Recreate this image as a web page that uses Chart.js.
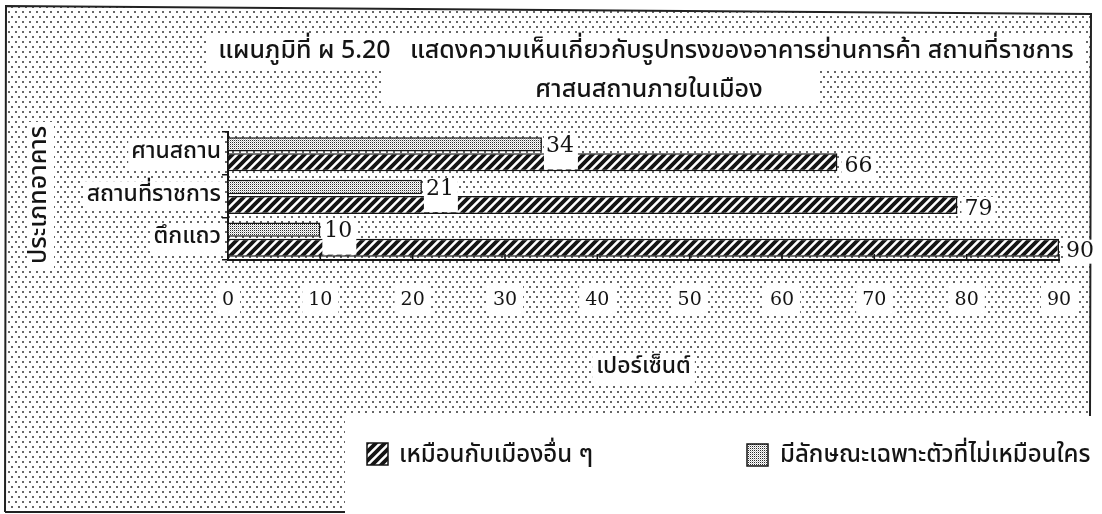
<!DOCTYPE html>
<html>
<head>
<meta charset="utf-8">
<script src="https://cdn.jsdelivr.net/npm/chart.js@4"></script>
<style>
  html, body { margin: 0; padding: 0; background: #fff; }
  #wrap { width: 1102px; height: 514px; position: relative; }
</style>
</head>
<body>
<div id="wrap"><canvas id="c" width="1102" height="514"></canvas></div>
<script>
// ---------- data ----------
const categories = ['ศานสถาน', 'สถานที่ราชการ', 'ตึกแถว'];
const uniqueValues = [34, 21, 10];      // มีลักษณะเฉพาะตัวที่ไม่เหมือนใคร (dotted)
const similarValues = [66, 79, 90];     // เหมือนกับเมืองอื่น ๆ (hatched)
const xTickValues = [0, 10, 20, 30, 40, 50, 60, 70, 80, 90];
const seriesSimilar = 'เหมือนกับเมืองอื่น ๆ';
const seriesUnique = 'มีลักษณะเฉพาะตัวที่ไม่เหมือนใคร';
const titleLines = ['แผนภูมิที่ ผ 5.20   แสดงความเห็นเกี่ยวกับรูปทรงของอาคารย่านการค้า สถานที่ราชการ', 'ศาสนสถานภายในเมือง'];
const yAxisTitle = 'ประเภทอาคาร';
const xAxisTitle = 'เปอร์เซ็นต์';

// ---------- styles ----------
const THAI = '"Noto Sans Thai", "Noto Sans Thai UI", "Loma", "Garuda", "Noto Sans", sans-serif';
const NUM = '"DejaVu Serif", "Liberation Serif", serif';
const INK = '#141414';

const canvas = document.getElementById('c');
const mainCtx = canvas.getContext('2d');

function makePattern(w, h, draw) {
  const c = document.createElement('canvas');
  c.width = w; c.height = h;
  const g = c.getContext('2d');
  draw(g, w, h);
  return mainCtx.createPattern(c, 'repeat');
}
const bgDots = makePattern(7, 10, (g, w, h) => {
  g.fillStyle = '#fff'; g.fillRect(0, 0, w, h);
  g.fillStyle = '#666';
  g.fillRect(1, 1, 2, 2);
  g.fillRect(4, 6, 2, 2);
});
const hatch = makePattern(9, 9, (g, w, h) => {
  g.fillStyle = '#fff'; g.fillRect(0, 0, w, h);
  g.strokeStyle = INK; g.lineWidth = 3.8;
  g.beginPath();
  g.moveTo(-3, 3); g.lineTo(3, -3);
  g.moveTo(0, h); g.lineTo(w, 0);
  g.moveTo(w - 3, h + 3); g.lineTo(w + 3, h - 3);
  g.stroke();
});
const stipple = makePattern(2, 2, (g) => {
  g.fillStyle = '#fff'; g.fillRect(0, 0, 2, 2);
  g.fillStyle = '#2a2a2a'; g.fillRect(0, 0, 1, 1);
  g.fillStyle = '#c4c4c4'; g.fillRect(1, 1, 1, 1);
});

// ---------- plugins ----------
const scanPlugin = {
  id: 'scan',
  beforeDraw(chart) {
    const ctx = chart.ctx;
    ctx.save();
    ctx.fillStyle = '#fff';
    ctx.fillRect(0, 0, chart.width, chart.height);
    // dotted background inside frame
    ctx.fillStyle = bgDots;
    ctx.beginPath();
    ctx.moveTo(6, 6); ctx.lineTo(1091, 14); ctx.lineTo(1090, 512); ctx.lineTo(5, 512); ctx.closePath();
    ctx.fill();
    // white patches
    ctx.fillStyle = '#fff';
    ctx.fillRect(345, 416, 760, 100);      // legend area
    ctx.fillRect(206, 36, 880, 34);        // title line 1
    ctx.fillRect(382, 70, 436, 36);        // title line 2
    ctx.fillRect(28, 122, 26, 146);        // y title
    // frame
    ctx.strokeStyle = '#222';
    ctx.lineWidth = 2;
    ctx.beginPath();
    ctx.moveTo(5, 512); ctx.lineTo(6, 6); ctx.lineTo(1091, 14); ctx.lineTo(1090, 416);
    ctx.moveTo(5, 512); ctx.lineTo(345, 512);
    ctx.stroke();
    ctx.restore();
  },
  afterDatasetsDraw(chart) {
    const ctx = chart.ctx;
    const xs = chart.scales.x;
    ctx.save();
    // x tick marks pointing up
    ctx.strokeStyle = INK; ctx.lineWidth = 1.5;
    ctx.beginPath();
    xTickValues.forEach(v => {
      const px = xs.getPixelForValue(v);
      ctx.moveTo(px, chart.chartArea.bottom); ctx.lineTo(px, chart.chartArea.bottom - 6);
    });
    ctx.stroke();
    // value labels
    ctx.font = '22px ' + NUM;
    ctx.textBaseline = 'middle';
    ctx.textAlign = 'left';
    chart.data.datasets.forEach((ds, di) => {
      const meta = chart.getDatasetMeta(di);
      meta.data.forEach((bar, i) => {
        const txt = String(ds.data[i]);
        const w = ctx.measureText(txt).width;
        let x, y;
        ctx.fillStyle = '#fff';
        if (di === 0) {
          x = bar.x + 4; y = bar.y + 2;
          const hb = chart.getDatasetMeta(1).data[i];
          const bottom = hb.y + hb.height / 2 - 2;
          ctx.fillRect(x - 2, y - 11, w + 6, bottom - (y - 11));
        } else {
          x = bar.x + 7; y = bar.y + 4;
          ctx.fillRect(x - 3, y - 12, w + 6, 24);
        }
        ctx.fillStyle = INK;
        ctx.fillText(txt, x, y);
      });
    });
    ctx.restore();
  },
  afterDraw(chart) {
    const ctx = chart.ctx;
    const xs = chart.scales.x;
    ctx.save();
    ctx.fillStyle = INK;
    ctx.textAlign = 'center';
    ctx.textBaseline = 'middle';
    // title
    ctx.font = '500 25px ' + THAI;
    ctx.fillText(titleLines[0], 646, 53);
    ctx.fillText(titleLines[1], 649, 92);
    // x title
    ctx.font = '500 23px ' + THAI;
    const xc = (xs.left + xs.right) / 2;
    const tw = ctx.measureText(xAxisTitle).width;
    ctx.fillStyle = '#fff';
    ctx.fillRect(xc - tw / 2 - 4, 354, tw + 8, 30);
    ctx.fillStyle = INK;
    ctx.fillText(xAxisTitle, xc, 368);
    // y title
    ctx.save();
    ctx.translate(41, 195);
    ctx.rotate(-Math.PI / 2);
    ctx.font = '500 25px ' + THAI;
    ctx.fillText(yAxisTitle, 0, 0);
    ctx.restore();
    // legend
    ctx.textAlign = 'left';
    ctx.font = '500 24px ' + THAI;
    ctx.lineWidth = 1.5; ctx.strokeStyle = INK;
    ctx.fillStyle = hatch; ctx.fillRect(367, 443, 21, 22); ctx.strokeRect(367, 443, 21, 22);
    ctx.fillStyle = INK; ctx.fillText(seriesSimilar, 399, 457);
    ctx.fillStyle = stipple; ctx.fillRect(747, 444, 21, 22); ctx.strokeRect(747, 444, 21, 22);
    ctx.fillStyle = INK; ctx.fillText(seriesUnique, 780, 457);
    ctx.restore();
  }
};

new Chart(canvas, {
  type: 'bar',
  data: {
    labels: categories,
    datasets: [
      {
        label: seriesUnique,
        data: uniqueValues,
        backgroundColor: stipple,
        borderColor: INK,
        borderWidth: 1.5,
        barPercentage: 0.8,
        categoryPercentage: 0.844
      },
      {
        label: seriesSimilar,
        data: similarValues,
        backgroundColor: hatch,
        borderColor: INK,
        borderWidth: 1.5,
        barPercentage: 1.0,
        categoryPercentage: 0.844
      }
    ]
  },
  options: {
    indexAxis: 'y',
    responsive: false,
    animation: false,
    devicePixelRatio: 1,
    layout: { padding: { left: 20, right: 43, top: 132, bottom: 114 } },
    plugins: {
      legend: { display: false },
      title: { display: false },
      tooltip: { enabled: false }
    },
    scales: {
      x: {
        type: 'linear',
        min: 0, max: 90,
        afterBuildTicks(scale) { scale.ticks = xTickValues.map(v => ({ value: v })); },
        afterFit(scale) { scale.height = 140; },
        ticks: {
          font: { family: NUM, size: 19 },
          color: INK,
          padding: 29,
          autoSkip: false,
          maxRotation: 0,
          showLabelBackdrop: true,
          backdropColor: '#fff',
          backdropPadding: { x: 6, y: 4 }
        },
        grid: { display: true, drawOnChartArea: false, drawTicks: false },
        border: { display: true, color: INK, width: 2 }
      },
      y: {
        type: 'category',
        afterFit(scale) { scale.width = 208; },
        ticks: {
          font: { family: THAI, size: 23, weight: '500' },
          color: INK,
          padding: 1,
          showLabelBackdrop: true,
          backdropColor: '#fff',
          backdropPadding: { x: 3, y: 1 }
        },
        grid: { display: true, offset: true, drawOnChartArea: false, drawTicks: true, tickLength: 6, color: INK, lineWidth: 1.5 },
        border: { display: true, color: INK, width: 2 }
      }
    }
  },
  plugins: [scanPlugin]
});
</script>
</body>
</html>
